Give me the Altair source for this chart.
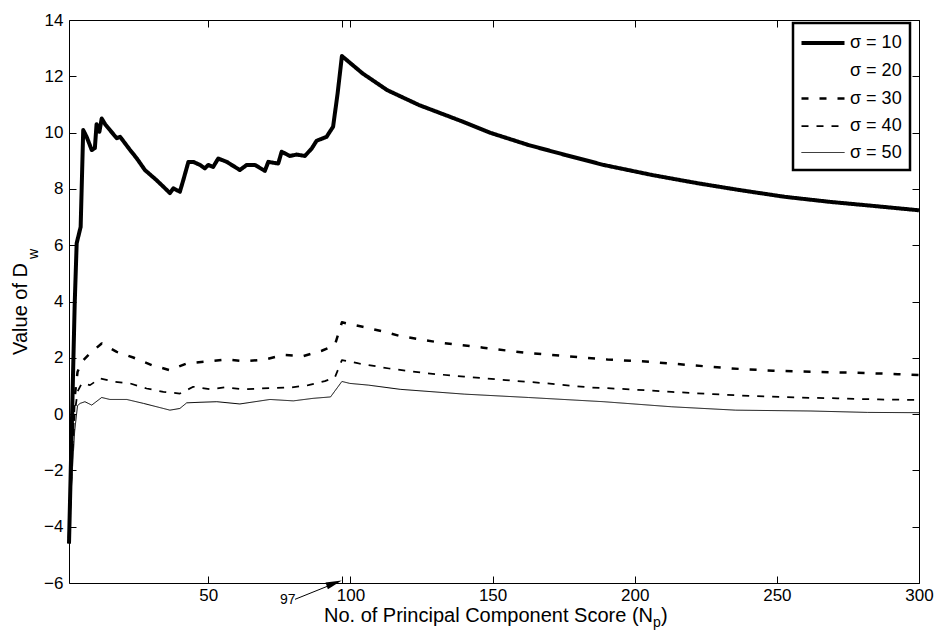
import altair as alt
import pandas as pd

# ---- data ----
labels = ["σ = 10", "σ = 20", "σ = 30", "σ = 40", "σ = 50"]

x10 = [1, 2, 3, 3.7, 5.1, 6, 7.2, 9, 10.1, 10.7, 11.7, 12.5, 13.7, 15.4, 17.8, 19, 20.7, 22.5, 24.8, 27.7,
       31.8, 35.4, 36.5, 37.7, 40, 41.2, 43, 44.7, 47.1, 48.8, 50, 51.7, 53.5, 56.5, 61.1, 63.5, 66.4, 69.9, 71.1, 74.6,
       75.8, 78.7, 81.1, 84, 86.4, 88.1, 91.6, 93.9, 95.5, 97, 104.3, 112.9, 124.1, 138.7, 149.3, 162.6, 175.8, 189.1,
       206.3, 222.2, 236.8, 252.7, 268.6, 284.5, 300]
y10 = [-4.6, -0.4, 3.9, 6.07, 6.65, 10.09, 9.85, 9.38, 9.45, 10.3, 10.03, 10.5, 10.3, 10.09, 9.8, 9.85, 9.62, 9.38, 9.09, 8.67,
       8.31, 7.96, 7.85, 8.02, 7.9, 8.31, 8.96, 8.96, 8.85, 8.73, 8.85, 8.78, 9.08, 8.96, 8.67, 8.85, 8.85, 8.64, 8.96, 8.9,
       9.32, 9.17, 9.22, 9.17, 9.44, 9.71, 9.85, 10.21, 11.4, 12.72, 12.1, 11.51, 10.98, 10.42, 9.99, 9.56, 9.2, 8.85,
       8.49, 8.2, 7.96, 7.72, 7.54, 7.39, 7.24]

x30 = [1, 2, 3, 4, 5.5, 8.4, 12.5, 17.8, 23.6, 30.1, 36.5, 42.4, 48.8, 55.9, 62.9, 69.9, 76.4, 83.4, 89.9, 94.5,
       97, 104.3, 110.9, 117.5, 132.1, 146.7, 161.3, 175.8, 190.4, 205, 219.6, 234.1, 248.7, 263.3, 277.9, 292.5, 300]
y30 = [-4.4, -1.3, 0.6, 1.5, 1.86, 2.16, 2.51, 2.21, 2.01, 1.74, 1.56, 1.8, 1.86, 1.94, 1.88, 1.94, 2.1, 2.06, 2.25, 2.45,
       3.26, 3.1, 2.95, 2.77, 2.53, 2.36, 2.18, 2.06, 1.94, 1.86, 1.74, 1.62, 1.54, 1.5, 1.47, 1.42, 1.39]

x40 = [1, 2, 3, 4, 5.5, 8.4, 11.9, 17.2, 22.5, 28.3, 34.2, 40, 44.7, 51, 55.9, 62.3, 68.2, 74, 79.3, 85.2,
       91, 94.5, 97, 102.9, 113.6, 126.8, 140, 154.6, 169.2, 183.8, 198.4, 213, 227.5, 242.1, 256.7, 271.3, 285.8, 300]
y40 = [-4.5, -1.8, 0.0, 0.8, 1.09, 1.03, 1.27, 1.15, 1.09, 0.91, 0.79, 0.73, 0.97, 0.88, 0.95, 0.88, 0.91, 0.93, 0.95, 1.03,
       1.17, 1.3, 1.92, 1.8, 1.62, 1.45, 1.33, 1.21, 1.09, 0.95, 0.88, 0.79, 0.71, 0.64, 0.59, 0.56, 0.52, 0.5]

x50 = [1, 2, 3, 4, 4.9, 6.6, 9, 12.5, 15.4, 21.3, 27.2, 34.2, 36.5, 40, 42.4, 47.1, 53, 61.1, 71.7, 79.9,
       86.9, 93, 97, 99.8, 106.3, 117.5, 140, 162.6, 189.1, 213, 235.5, 262, 281.9, 300]
y50 = [-4.6, -2.3, -0.6, 0.3, 0.38, 0.44, 0.32, 0.59, 0.52, 0.52, 0.38, 0.2, 0.14, 0.2, 0.4, 0.42, 0.44, 0.36, 0.52, 0.47,
       0.56, 0.61, 1.16, 1.09, 1.03, 0.88, 0.71, 0.59, 0.44, 0.26, 0.14, 0.11, 0.06, 0.05]

x_ticks = [50, 97, 100, 150, 200, 250, 300]
y_ticks = [-6, -4, -2, 0, 2, 4, 6, 8, 10, 12, 14]

# annotation "97" with arrow (data coordinates)
note_text = ["97"]
note_x = [75.2]
note_y = [-6.74]
arrow_x = [80.5, 95.0]
arrow_y = [-6.58, -5.99]
head_x = [94.3]
head_y = [-6.01]

FONT = "Liberation Sans"

rows = []
for lab, xs, ys in [(labels[0], x10, y10), (labels[2], x30, y30), (labels[3], x40, y40), (labels[4], x50, y50)]:
    for a, b in zip(xs, ys):
        rows.append({"sigma": lab, "x": a, "y": b})
df = pd.DataFrame(rows)

xscale = alt.Scale(domain=[1, 300], nice=False, zero=False)
yscale = alt.Scale(domain=[-6, 14], nice=False, zero=False)

leg = alt.Legend(title=None, orient="none", legendX=724, legendY=3,
                 symbolType="M-2.15,0H2.15", symbolSize=400, symbolOffset=10,
                 labelFont=FONT, labelFontSize=18, labelColor="black",
                 padding=8, rowPadding=7, labelOffset=15, strokeColor="black", fillColor="white")

bottom_axis = alt.Axis(values=x_ticks, labelExpr="datum.value == 97 ? '' : datum.label", title=None,
                       offset=-7, tickSize=7, domain=False, grid=False, labelPadding=4, labelFlush=False)
left_axis = alt.Axis(values=y_ticks, title=None, offset=-7, tickSize=7, domain=False, grid=False,
                     labelPadding=6, labelFlush=False)
top_axis = alt.Axis(orient="top", values=x_ticks, labels=False, title=None, offset=-7, tickSize=7,
                    domain=False, grid=False)
right_axis = alt.Axis(orient="right", values=y_ticks, labels=False, title=None, offset=-7, tickSize=7,
                      domain=False, grid=False)

lines = alt.Chart(df).mark_line(strokeJoin="round", strokeCap="butt").encode(
    x=alt.X("x:Q", scale=xscale, axis=bottom_axis),
    y=alt.Y("y:Q", scale=yscale, axis=left_axis),
    color=alt.Color("sigma:N", scale=alt.Scale(domain=labels, range=["black", "transparent", "black", "black", "black"]), legend=leg),
    strokeDash=alt.StrokeDash("sigma:N", scale=alt.Scale(domain=labels, range=[[1, 0], [1, 0], [7, 11], [7, 8], [1, 0]]), legend=leg),
    strokeWidth=alt.StrokeWidth("sigma:N", scale=alt.Scale(domain=labels, range=[4, 1, 3, 3, 1]), legend=leg),
)

frame_axes = alt.Chart(df).mark_point(opacity=0).encode(
    x=alt.X("x:Q", scale=xscale, axis=top_axis),
    y=alt.Y("y:Q", scale=yscale, axis=right_axis),
)

note = alt.Chart(pd.DataFrame({"x": note_x, "y": note_y, "t": note_text})).mark_text(
    align="left", baseline="alphabetic", font=FONT, fontSize=14, color="black"
).encode(x=alt.X("x:Q", scale=xscale, axis=None), y=alt.Y("y:Q", scale=yscale, axis=None), text="t:N")

arrow = alt.Chart(pd.DataFrame({"x": arrow_x, "y": arrow_y})).mark_line(color="black", strokeWidth=1).encode(
    x=alt.X("x:Q", scale=xscale, axis=None), y=alt.Y("y:Q", scale=yscale, axis=None))

head = alt.Chart(pd.DataFrame({"x": head_x, "y": head_y})).mark_point(
    shape="M1,0L-1,-0.45L-1,0.45Z", filled=True, color="black", opacity=1, size=256, angle=340.3
).encode(x=alt.X("x:Q", scale=xscale, axis=None), y=alt.Y("y:Q", scale=yscale, axis=None))

ytitle1 = alt.Chart(pd.DataFrame({"t": ["Value of D"]})).mark_text(
    angle=270, align="right", baseline="alphabetic", font=FONT, fontSize=20, color="black"
).encode(text="t:N", x=alt.value(-42), y=alt.value(243))
ytitle2 = alt.Chart(pd.DataFrame({"t": ["w"]})).mark_text(
    angle=270, align="left", baseline="alphabetic", font=FONT, fontSize=14, color="black"
).encode(text="t:N", x=alt.value(-31), y=alt.value(239))

xtitle1 = alt.Chart(pd.DataFrame({"t": ["No. of Principal Component Score (N"]})).mark_text(
    align="right", baseline="alphabetic", font=FONT, fontSize=20, color="black"
).encode(text="t:N", x=alt.value(584), y=alt.value(602))
xtitle2 = alt.Chart(pd.DataFrame({"t": ["p"]})).mark_text(
    align="left", baseline="alphabetic", font=FONT, fontSize=14, color="black"
).encode(text="t:N", x=alt.value(584), y=alt.value(607))
xtitle3 = alt.Chart(pd.DataFrame({"t": [")"]})).mark_text(
    align="left", baseline="alphabetic", font=FONT, fontSize=20, color="black"
).encode(text="t:N", x=alt.value(592), y=alt.value(602))

chart = alt.layer(lines, frame_axes, note, arrow, head, ytitle1, ytitle2, xtitle1, xtitle2, xtitle3).resolve_axis(
    x="independent", y="independent"
).properties(
    width=850, height=563,
    padding={"left": 69, "top": 20, "right": 15, "bottom": 49},
    autosize=alt.AutoSizeParams(type="none"),
    background="white",
).configure_view(
    stroke="black", strokeWidth=1
).configure_axis(
    labelFont=FONT, labelFontSize=17, labelColor="black", tickColor="black", tickWidth=1
).configure_legend(
    strokeWidth=2.5
)

chart.save("out.html", embed_options={"renderer": "svg", "actions": False})
